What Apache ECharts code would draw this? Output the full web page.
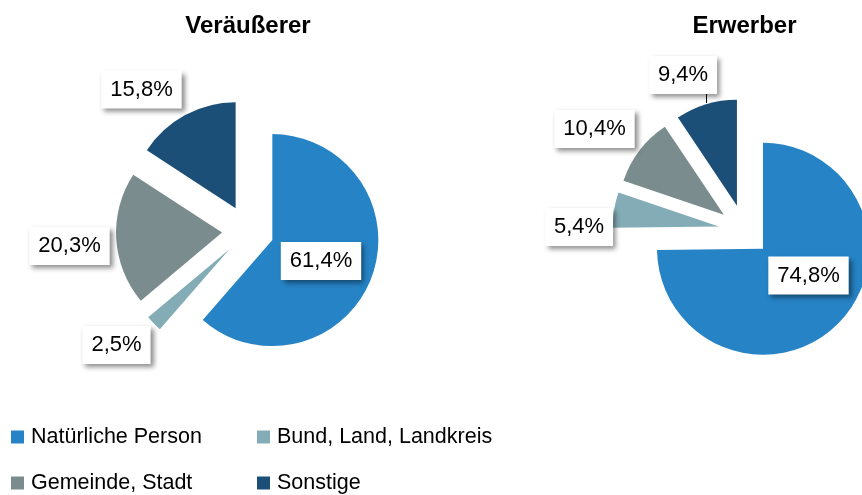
<!DOCTYPE html>
<html>
<head>
<meta charset="utf-8">
<script src="https://cdn.jsdelivr.net/npm/echarts@6/dist/echarts.min.js"></script>
<style>
html,body{margin:0;padding:0;background:#fff;}
#chart{width:862px;height:495px;}
</style>
</head>
<body>
<div id="chart"></div>
<script>
// ---- data ----
var categories = ['Natürliche Person', 'Bund, Land, Landkreis', 'Gemeinde, Stadt', 'Sonstige'];
var veraeussererValues = [61.4, 2.5, 20.3, 15.8];
var erwerberValues = [74.8, 5.4, 10.4, 9.4];
var chartTitles = ['Veräußerer', 'Erwerber'];

// ---- styling / layout ----
var colors = ['#2683C6', '#84ACB6', '#7A8C8E', '#1B4F77'];
var font = "'Liberation Sans', Arial, sans-serif";
var pieCenters = [[248, 231], [744.5, 230.5]];
var pieRadius = 106;
var explode = 26;
// label box centres relative to each pie centre (pixels)
var labelPos = [
  [[73, 30], [-131.5, 114], [-178.5, 15], [-106.5, -141.5]],
  [[64, 45], [-165.5, -3.5], [-150, -101.5], [-61.5, -155.5]]
];
// leader line (only 9,4%): relative to its label centre
var leader = { series: 1, index: 3, from: [23.5, 19], to: [23.5, 28] };

function fmt(p) {
  return p.value.toFixed(1).replace('.', ',') + '%';
}

// visible exploded pie
function slicePie(si, values) {
  return {
    type: 'pie',
    center: pieCenters[si],
    radius: [0, pieRadius],
    startAngle: 90,
    clockwise: true,
    selectedMode: 'multiple',
    selectedOffset: explode,
    animation: false,
    silent: true,
    emphasis: { disabled: true },
    data: categories.map(function (n, i) {
      return { name: n, value: values[i], selected: true, itemStyle: { color: colors[i] } };
    }),
    label: { show: false },
    labelLine: { show: false },
    select: { itemStyle: { borderWidth: 0 } }
  };
}

// transparent pie carrying the value labels
function labelPie(si, values) {
  return {
    type: 'pie',
    center: pieCenters[si],
    radius: [0, pieRadius],
    startAngle: 90,
    clockwise: true,
    animation: false,
    silent: true,
    avoidLabelOverlap: false,
    emphasis: { disabled: true },
    data: categories.map(function (n, i) {
      var d = { name: n, value: values[i], itemStyle: { color: 'rgba(0,0,0,0)' } };
      if (si === leader.series && i === leader.index) {
        d.labelLine = { show: true, lineStyle: { color: '#000', width: 1 } };
      }
      return d;
    }),
    label: {
      show: true,
      position: 'outside',
      overflow: 'none',
      formatter: fmt,
      fontFamily: font,
      fontSize: 22,
      lineHeight: 26,
      color: '#000',
      backgroundColor: '#fff',
      padding: [6, 9, 6, 9],
      shadowColor: 'rgba(0,0,0,0.45)',
      shadowBlur: 5,
      shadowOffsetX: 3,
      shadowOffsetY: 3
    },
    labelLine: { show: false },
    labelLayout: function (params) {
      var c = pieCenters[params.seriesIndex - 2];
      var s = labelPos[params.seriesIndex - 2][params.dataIndex];
      var x = c[0] + s[0], y = c[1] + s[1];
      var res = { x: x, y: y, align: 'center', verticalAlign: 'middle' };
      if (params.seriesIndex - 2 === leader.series && params.dataIndex === leader.index) {
        var a = [x + leader.from[0], y + leader.from[1]];
        var b = [x + leader.to[0], y + leader.to[1]];
        res.labelLinePoints = [a, b, b];
      }
      return res;
    }
  };
}

var chart = echarts.init(document.getElementById('chart'), null, { renderer: 'canvas' });
chart.setOption({
  animation: false,
  backgroundColor: '#fff',
  color: colors,
  title: [
    { text: chartTitles[0], left: pieCenters[0][0], top: 14, padding: 0, textAlign: 'center',
      textStyle: { fontFamily: font, fontWeight: 'bold', fontSize: 24, color: '#000' } },
    { text: chartTitles[1], left: pieCenters[1][0], top: 14, padding: 0, textAlign: 'center',
      textStyle: { fontFamily: font, fontWeight: 'bold', fontSize: 24, color: '#000' } }
  ],
  legend: {
    data: categories,
    left: 11,
    top: 424,
    width: 560,
    padding: 0,
    itemGap: 20,
    itemWidth: 13,
    itemHeight: 13,
    icon: 'rect',
    selectedMode: false,
    textStyle: { fontFamily: font, fontSize: 21.5, color: '#000', width: 206, lineHeight: 26, padding: [0, 0, 0, 2] }
  },
  series: [
    slicePie(0, veraeussererValues),
    slicePie(1, erwerberValues),
    labelPie(0, veraeussererValues),
    labelPie(1, erwerberValues)
  ]
});
</script>
</body>
</html>
